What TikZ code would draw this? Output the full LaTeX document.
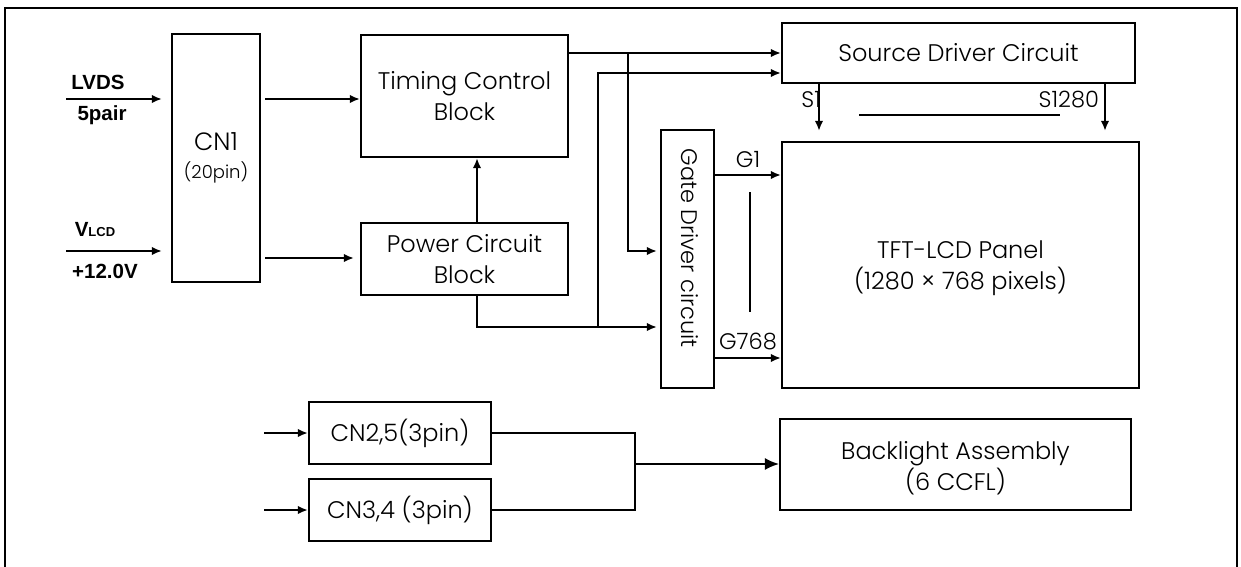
\documentclass[tikz,border=0pt]{standalone}
\usepackage{fontspec}
\setmainfont{Poppins}[UprightFont=* Light]
\newfontfamily\arialfont{Liberation Sans}
\usetikzlibrary{arrows.meta}
\begin{document}
\begin{tikzpicture}[x=1pt,y=-1pt,
  line width=2.2pt,
  >={Latex[length=10pt,width=8.5pt]},
  bigtip/.style={-{Latex[length=14pt,width=12pt]}},
  blk/.style={draw, line width=2.2pt, inner sep=0pt, align=center, font=\fontsize{24}{31}\selectfont},
  txt/.style={inner sep=0pt, align=center, font=\fontsize{22.5}{31}\selectfont},
  lbl/.style={inner sep=0pt, font=\fontsize{22.5}{26}\selectfont},
  bold/.style={inner sep=0pt, font=\arialfont\bfseries\fontsize{20.5}{24}\selectfont},
  thin/.style={line width=1.2pt}]
\useasboundingbox (0,0) rectangle (1241,567);
% frame
\coordinate (fl) at (5,600);
\coordinate (fr) at (1237,600);
\draw[line width=2.2pt] (fl) |- (1237,8) -- (fr);
% blocks
\node[blk, minimum width=88, minimum height=248] (cn1) at (216,158) {{\fontsize{25}{28}\selectfont CN1}\\[-3pt]{\fontsize{18}{20}\selectfont (20pin)}};
\node[blk, minimum width=207, minimum height=122] (timing) at (464.5,96) {Timing Control\\Block};
\node[blk, minimum width=207, minimum height=72] (power) at (464.5,259) {Power Circuit\\Block};
\node[blk, minimum width=353, minimum height=60] (source) at (958.5,53) {Source Driver Circuit};
\node[blk, minimum width=53, minimum height=258] (gate) at (687.5,259) {};
\node[txt, rotate=-90] (gatetxt) at (690,248) {Gate Driver circuit};
\node[blk, minimum width=357, minimum height=246] (tft) at (960.5,265) {\rule{0pt}{25pt}TFT-LCD Panel\\(1280 × 768 pixels)};
\node[blk, minimum width=182, minimum height=62] (cn25) at (400,433) {CN2,5(3pin)};
\node[blk, minimum width=182, minimum height=62] (cn34) at (400,510) {CN3,4 (3pin)};
\node[blk, minimum width=351, minimum height=91] (backlight) at (955.5,464.5) {\rule{0pt}{25pt}Backlight Assembly\\(6 CCFL)};
% input labels
\node[bold] (lvds) at (98,82) {LVDS};
\node[bold] (pair) at (102,115) {5pair};
\node[bold] (vlcd) at (95,230) {V{\fontsize{13}{15}\selectfont LCD}};
\node[bold] (volt) at (105,271) {+12.0V};
% inputs
\coordinate (lvdsin) at (66,99);
\coordinate (vlcdin) at (66,251);
\draw[->, shorten >=9pt] (lvdsin) -- (cn1.west |- lvdsin);
\draw[->, shorten >=9pt] (vlcdin) -- (cn1.west |- vlcdin);
% CN1 outputs
\draw[->, shorten <=4pt] (cn1.east |- 0,99) -- (timing.west |- 0,99);
\draw[->, shorten <=4pt, shorten >=6pt] (cn1.east |- 0,258) -- (power.west |- 0,258);
% power
\draw[->] (power.north -| 477,0) -- (timing.south -| 477,0);
\draw[->, shorten >=3pt] (power.south -| 477,0) |- (gate.west |- 0,327);
\coordinate (j1) at (598,327);
\draw[->] (j1) |- (source.west |- 0,73);
% timing
\draw[->] (timing.east |- 0,53) -- (source.west |- 0,53);
\coordinate (j2) at (628,53);
\draw[->, shorten >=3pt] (j2) |- (gate.west |- 0,251);
% gate outputs
\draw[->] (gate.east |- 0,175) -- node[lbl, above=6pt] (g1) {G1} (tft.west |- 0,175);
\draw[->] (gate.east |- 0,358) -- node[lbl, above=7pt] (g768) {G768} (tft.west |- 0,358);
\coordinate (gv1) at (750,192);
\coordinate (gv2) at (750,312);
\draw (gv1) -- (gv2);
% source outputs
\draw[->, shorten >=10pt] (source.south -| 819,0) -- (tft.north -| 819,0);
\draw[->, shorten >=10pt] (source.south -| 1105,0) -- (tft.north -| 1105,0);
\node[lbl, anchor=east] (s1) at (822,100) {S1};
\node[lbl, anchor=east] (s1280) at (1100,100) {S1280};
\coordinate (sh1) at (859,115);
\coordinate (sh2) at (1060,115);
\draw (sh1) -- (sh2);
% backlight
\coordinate (in25) at (264,433);
\coordinate (in34) at (264,510);
\draw[->] (in25) -- (cn25.west);
\draw[->] (in34) -- (cn34.west);
\coordinate (j3) at (635,464);
\draw[thin] (cn25.east) -| (j3) |- (cn34.east);
\draw[bigtip, line width=1.6pt] (j3) -- (backlight.west |- j3);
\end{tikzpicture}
\end{document}
